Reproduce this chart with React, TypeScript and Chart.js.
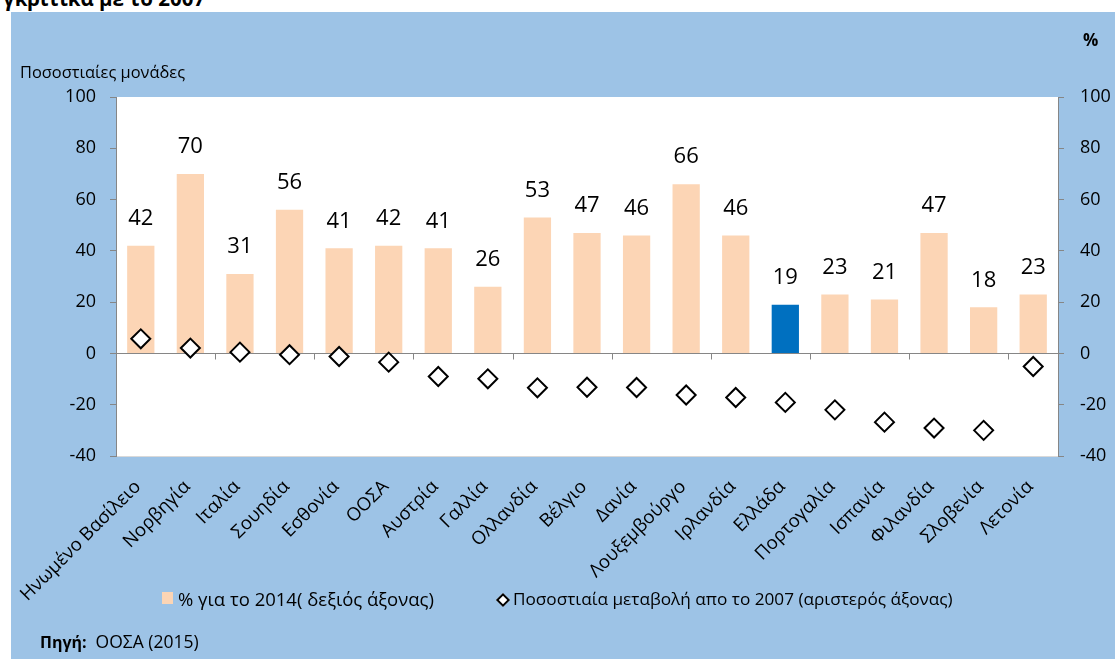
import React, { useEffect, useRef } from 'react';
import { Chart, registerables } from 'chart.js';

Chart.register(...registerables);

const countries = [
  'Ηνωμένο Βασίλειο', 'Νορβηγία', 'Ιταλία', 'Σουηδία', 'Εσθονία', 'ΟΟΣΑ', 'Αυστρία',
  'Γαλλία', 'Ολλανδία', 'Βέλγιο', 'Δανία', 'Λουξεμβούργο', 'Ιρλανδία', 'Ελλάδα',
  'Πορτογαλία', 'Ισπανία', 'Φιλανδία', 'Σλοβενία', 'Λετονία',
];
const share2014 = [42, 70, 31, 56, 41, 42, 41, 26, 53, 47, 46, 66, 46, 19, 23, 21, 47, 18, 23];
const change2007 = [5.7, 2.1, 0.5, -0.5, -1.2, -3.4, -9, -9.9, -13.4, -13.2, -13.3, -16.2, -17.2, -19.1, -22, -26.8, -29.1, -30, -5.1];
const highlightCountry = 'Ελλάδα';
const yTicks = [-40, -20, 0, 20, 40, 60, 80, 100];

const barLabel = '% για το 2014( δεξιός άξονας)';
const pointLabel = 'Ποσοστιαία μεταβολή απο το 2007 (αριστερός άξονας)';
const titleText = 'γκριτικά με το 2007';
const leftAxisTitle = 'Ποσοστιαίες μονάδες';
const rightAxisTitle = '%';
const sourceLabel = 'Πηγή:';
const sourceText = 'ΟΟΣΑ (2015)';

const FONT = "'Open Sans', 'Noto Sans', sans-serif";
const PANEL_BG = '#9DC3E6';
const PEACH = '#FCD5B5';
const BLUE = '#0070C0';
const AXIS = '#868686';

const decorPlugin = {
  id: 'decor',
  beforeDraw(chart: any) {
    const { ctx, chartArea: a } = chart;
    ctx.save();
    ctx.fillStyle = '#ffffff';
    ctx.fillRect(a.left, a.top, a.right - a.left, a.bottom - a.top);
    ctx.strokeStyle = '#D9D9D9';
    ctx.lineWidth = 1;
    ctx.beginPath();
    ctx.moveTo(a.left, a.bottom + 0.5);
    ctx.lineTo(a.right, a.bottom + 0.5);
    ctx.stroke();
    ctx.restore();
  },
  beforeDatasetsDraw(chart: any) {
    const { ctx, chartArea: a, scales } = chart;
    const x = scales.x;
    const y0 = Math.round(scales.yL.getPixelForValue(0)) + 0.5;
    const half = (x.getPixelForValue(1) - x.getPixelForValue(0)) / 2;
    ctx.save();
    ctx.strokeStyle = AXIS;
    ctx.lineWidth = 1;
    ctx.beginPath();
    ctx.moveTo(a.left, y0);
    ctx.lineTo(a.right, y0);
    for (let k = 0; k <= countries.length; k += 2) {
      const px = Math.round(x.getPixelForValue(k) - half) + 0.5;
      ctx.moveTo(px, y0);
      ctx.lineTo(px, y0 + 6);
    }
    ctx.stroke();
    ctx.restore();
  },
  afterDatasetsDraw(chart: any) {
    const { ctx } = chart;
    const meta = chart.getDatasetMeta(1);
    ctx.save();
    ctx.fillStyle = '#000';
    ctx.font = `22px ${FONT}`;
    ctx.textAlign = 'center';
    ctx.textBaseline = 'middle';
    meta.data.forEach((bar: any, i: number) => {
      ctx.fillText(String(share2014[i]), bar.x, bar.y - 27);
    });
    ctx.restore();
  },
};

export default function App() {
  const ref = useRef<HTMLCanvasElement>(null);

  useEffect(() => {
    document.body.style.margin = '0';
    const canvas = ref.current!;
    const tickFont = { family: FONT, size: 18 };
    const chart = new Chart(canvas, {
      type: 'bar',
      data: {
        labels: countries,
        datasets: [
          {
            type: 'line',
            label: pointLabel,
            data: change2007,
            yAxisID: 'yL',
            showLine: false,
            pointStyle: 'rectRot',
            pointRadius: 9.5,
            pointBorderWidth: 2,
            pointBorderColor: '#000',
            pointBackgroundColor: '#fff',
            order: 0,
          } as any,
          {
            type: 'bar',
            label: barLabel,
            data: share2014,
            yAxisID: 'yR',
            backgroundColor: countries.map((c) => (c === highlightCountry ? BLUE : PEACH)),
            barPercentage: 0.55,
            categoryPercentage: 1,
            order: 1,
          },
        ],
      },
      options: {
        responsive: false,
        animation: false,
        events: [],
        layout: { padding: { top: 85, left: 0, right: 0, bottom: 0 } },
        plugins: { legend: { display: false }, tooltip: { enabled: false }, title: { display: false } },
        scales: {
          x: {
            offset: true,
            grid: { display: false },
            border: { display: false },
            ticks: {
              font: { family: FONT, size: 18.5 },
              color: '#000',
              minRotation: 45,
              maxRotation: 45,
              autoSkip: false,
              padding: 12,
              labelOffset: -3,
            },
            afterFit: (s: any) => {
              s.height = 203;
              s.paddingLeft = 0;
              s.paddingRight = 0;
            },
          },
          yL: {
            position: 'left',
            min: -40,
            max: 100,
            afterBuildTicks: (s: any) => {
              s.ticks = yTicks.map((v) => ({ value: v }));
            },
            ticks: { font: tickFont, color: '#000', padding: 14 },
            grid: { drawOnChartArea: false, tickLength: 6, color: AXIS },
            border: { color: AXIS },
            afterFit: (s: any) => {
              s.width = 105;
              s.paddingTop = 0;
              s.paddingBottom = 0;
            },
          },
          yR: {
            position: 'right',
            min: -40,
            max: 100,
            afterBuildTicks: (s: any) => {
              s.ticks = yTicks.map((v) => ({ value: v }));
            },
            ticks: { font: tickFont, color: '#000', padding: 16 },
            grid: { drawOnChartArea: false, tickLength: 6, color: AXIS },
            border: { color: AXIS },
            afterFit: (s: any) => {
              s.width = 57;
              s.paddingTop = 0;
              s.paddingBottom = 0;
            },
          },
        },
      },
      plugins: [decorPlugin],
    });
    return () => chart.destroy();
  }, []);

  const text = (extra: React.CSSProperties): React.CSSProperties => ({
    position: 'absolute',
    fontFamily: FONT,
    color: '#000',
    whiteSpace: 'nowrap',
    ...extra,
  });

  return (
    <div style={{ position: 'relative', width: 1115, height: 659, background: '#fff', overflow: 'hidden' }}>
      <div style={text({ left: 3, top: -12, fontSize: 20.5, lineHeight: '20px', fontWeight: 700 })}>{titleText}</div>
      <div style={{ position: 'absolute', left: 11, top: 12, width: 1104, height: 647, background: PANEL_BG }}>
        <canvas ref={ref} width={1104} height={647} style={{ display: 'block', width: 1104, height: 647 }} />
      </div>
      <div style={text({ left: 20, top: 61, fontSize: 16.4, lineHeight: '22px' })}>{leftAxisTitle}</div>
      <div style={text({ left: 1083, top: 29, fontSize: 17, lineHeight: '22px', fontWeight: 700 })}>{rightAxisTitle}</div>
      <div style={{ position: 'absolute', left: 162, top: 592, width: 11, height: 12, background: PEACH }} />
      <div style={text({ left: 178, top: 587, fontSize: 18.5, lineHeight: '24px' })}>{barLabel}</div>
      <div
        style={{
          position: 'absolute',
          left: 498,
          top: 595,
          width: 6,
          height: 6,
          background: '#fff',
          border: '2px solid #000',
          transform: 'rotate(45deg)',
        }}
      />
      <div style={text({ left: 513, top: 587, fontSize: 17.2, lineHeight: '24px' })}>{pointLabel}</div>
      <div style={text({ left: 40, top: 629, fontSize: 17.5, lineHeight: '24px' })}>
        <b style={{ fontSize: 16 }}>{sourceLabel}</b>
        <span style={{ marginLeft: 9 }}>{sourceText}</span>
      </div>
    </div>
  );
}
